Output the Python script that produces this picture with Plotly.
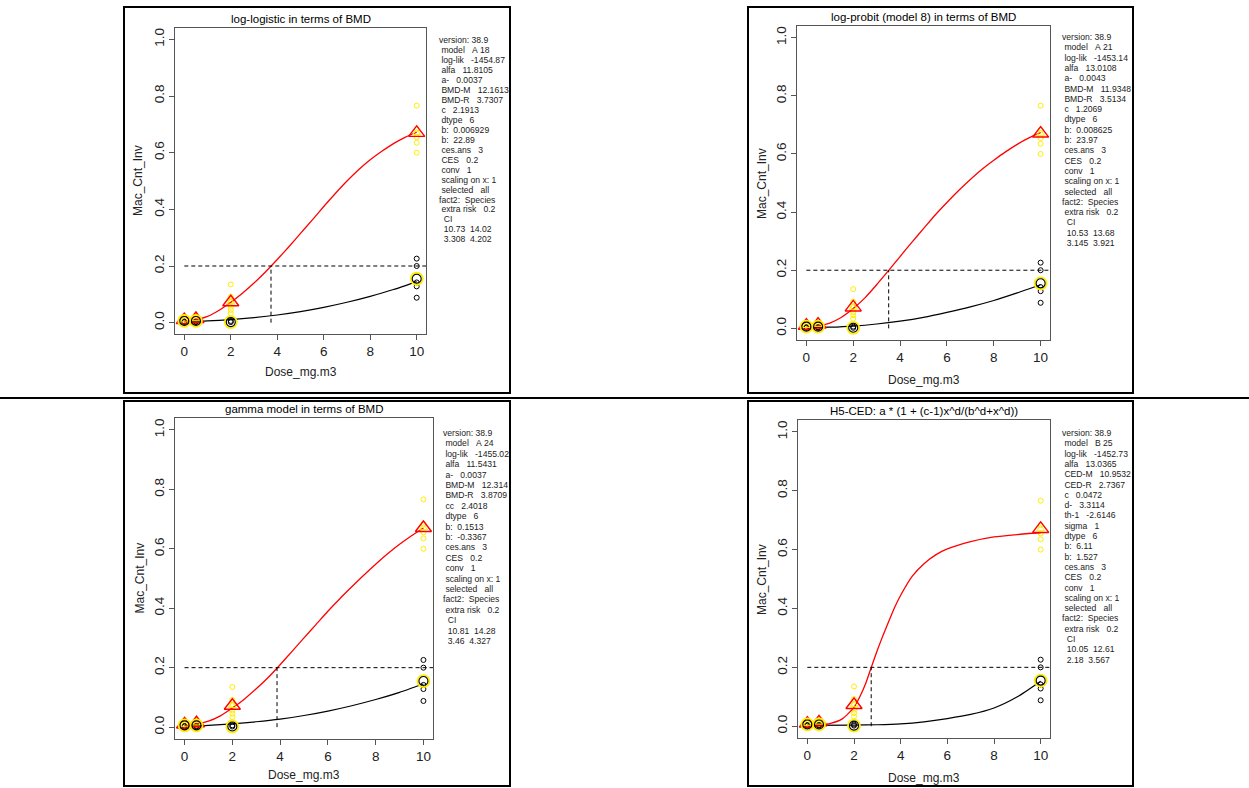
import plotly.graph_objects as go

W, H = 1249, 788

# ---------------- data ----------------
obs_yellow_x = [0, 0, 0, 0.5, 0.5, 0.5, 2, 2, 2, 2, 2, 2, 10, 10, 10, 10, 10]
obs_yellow_y = [0.005, 0.012, 0.02, 0.006, 0.012, 0.022, 0.135, 0.092, 0.075, 0.056, 0.045, 0.033,
                0.766, 0.683, 0.655, 0.635, 0.600]
obs_black_x = [0, 0, 0.5, 0.5, 2, 2, 10, 10, 10, 10, 10]
obs_black_y = [0.002, 0.004, 0.002, 0.004, 0.002, 0.006, 0.226, 0.200, 0.142, 0.128, 0.088]

dose = [0, 0.5, 2, 10]
mean_red = [0.009, 0.013, 0.072, 0.67]
mean_black = [0.006, 0.006, 0.002, 0.155]

ces_level = 0.2

titles = ["log-logistic in terms of BMD",
          "log-probit (model 8) in terms of BMD",
          "gamma model in terms of BMD",
          "H5-CED: a * (1 + (c-1)x^d/(b^d+x^d))"]

bmd_r = [3.7307, 3.5134, 3.8709, 2.7367]

# fitted curves
red1_x = [0, 0.5, 1, 1.5, 2, 2.5, 3, 3.5, 4, 4.5, 5, 5.5, 6, 6.5, 7, 7.5, 8, 8.5, 9, 9.5, 10]
red1_y = [0.005, 0.01, 0.022, 0.044, 0.072, 0.104, 0.14, 0.18, 0.223, 0.268, 0.315, 0.362, 0.41, 0.456,
          0.5, 0.54, 0.575, 0.605, 0.632, 0.654, 0.672]
blk1_x = [0, 1, 2, 3, 4, 5, 6, 7, 8, 9, 10]
blk1_y = [0.003, 0.006, 0.011, 0.018, 0.027, 0.039, 0.054, 0.072, 0.093, 0.117, 0.145]

red2_x = [0, 0.5, 1, 1.5, 2, 2.5, 3, 3.5, 4, 4.5, 5, 5.5, 6, 6.5, 7, 7.5, 8, 8.5, 9, 9.5, 10]
red2_y = [0.004, 0.008, 0.018, 0.038, 0.068, 0.105, 0.15, 0.198, 0.247, 0.296, 0.343, 0.39, 0.433, 0.474,
          0.512, 0.547, 0.578, 0.607, 0.633, 0.655, 0.673]
blk2_x = [0, 1, 2, 3, 4, 5, 6, 7, 8, 9, 10]
blk2_y = [0.002, 0.004, 0.008, 0.015, 0.025, 0.038, 0.055, 0.074, 0.096, 0.122, 0.15]

red3_x = [0, 0.5, 1, 1.5, 2, 2.5, 3, 3.5, 4, 4.5, 5, 5.5, 6, 6.5, 7, 7.5, 8, 8.5, 9, 9.5, 10]
red3_y = [0.005, 0.01, 0.02, 0.038, 0.064, 0.094, 0.129, 0.167, 0.21, 0.255, 0.3, 0.345, 0.39, 0.432,
          0.472, 0.511, 0.548, 0.583, 0.615, 0.644, 0.67]
blk3_x = [0, 1, 2, 3, 4, 5, 6, 7, 8, 9, 10]
blk3_y = [0.003, 0.006, 0.011, 0.018, 0.027, 0.039, 0.054, 0.072, 0.093, 0.117, 0.145]

red4_x = [0, 0.5, 1, 1.5, 2, 2.25, 2.5, 2.75, 3, 3.25, 3.5, 3.75, 4, 4.5, 5, 5.5, 6, 7, 8, 9, 10]
red4_y = [0.004, 0.005, 0.01, 0.025, 0.064, 0.1, 0.145, 0.202, 0.258, 0.31, 0.358, 0.405, 0.445, 0.51,
          0.552, 0.582, 0.602, 0.627, 0.643, 0.651, 0.657]
blk4_x = [0, 2, 3, 4, 5, 6, 7, 8, 9, 10]
blk4_y = [0.003, 0.004, 0.005, 0.008, 0.015, 0.026, 0.04, 0.062, 0.1, 0.153]

red_curves = [(red1_x, red1_y), (red2_x, red2_y), (red3_x, red3_y), (red4_x, red4_y)]
blk_curves = [(blk1_x, blk1_y), (blk2_x, blk2_y), (blk3_x, blk3_y), (blk4_x, blk4_y)]

info1 = ["version: 38.9", " model   A 18", " log-lik   -1454.87", " alfa   11.8105", " a-   0.0037",
         " BMD-M   12.1613", " BMD-R   3.7307", " c   2.1913", " dtype   6", " b:  0.006929", " b:  22.89",
         " ces.ans   3", " CES   0.2", " conv   1", " scaling on x: 1", " selected   all", "fact2:  Species",
         " extra risk   0.2", "  CI", "  10.73  14.02", "  3.308  4.202"]
info2 = ["version: 38.9", " model   A 21", " log-lik   -1453.14", " alfa   13.0108", " a-   0.0043",
         " BMD-M   11.9348", " BMD-R   3.5134", " c   1.2069", " dtype   6", " b:  0.008625", " b:  23.97",
         " ces.ans   3", " CES   0.2", " conv   1", " scaling on x: 1", " selected   all", "fact2:  Species",
         " extra risk   0.2", "  CI", "  10.53  13.68", "  3.145  3.921"]
info3 = ["version: 38.9", " model   A 24", " log-lik   -1455.02", " alfa   11.5431", " a-   0.0037",
         " BMD-M   12.314", " BMD-R   3.8709", " cc   2.4018", " dtype   6", " b:  0.1513", " b:  -0.3367",
         " ces.ans   3", " CES   0.2", " conv   1", " scaling on x: 1", " selected   all", "fact2:  Species",
         " extra risk   0.2", "  CI", "  10.81  14.28", "  3.46  4.327"]
info4 = ["version: 38.9", " model   B 25", " log-lik   -1452.73", " alfa   13.0365", " CED-M   10.9532",
         " CED-R   2.7367", " c   0.0472", " d-   3.3114", " th-1   -2.6146", " sigma   1", " dtype   6",
         " b:  6.11", " b:  1.527", " ces.ans   3", " CES   0.2", " conv   1", " scaling on x: 1",
         " selected   all", "fact2:  Species", " extra risk   0.2", "  CI", "  10.05  12.61", "  2.18  3.567"]
infos = [info1, info2, info3, info4]

x_ticks = [0, 2, 4, 6, 8, 10]
y_ticks = [0.0, 0.2, 0.4, 0.6, 0.8, 1.0]

# ---------------- layout geometry (screen pixels) ----------------
plot_boxes = [(175, 426, 28, 334), (797, 1050, 26, 340), (175, 433, 418, 739), (798, 1050, 420, 738)]
frames = [(124, 510, 7, 393), (748, 1133, 7, 393), (124, 510, 401, 786), (748, 1133, 401, 786)]
text_pos = [(437, 40, 9.97), (1060, 37, 10.3), (441, 433, 10.4), (1060, 433, 10.3)]
xlab_y = [372, 380, 775, 778]
ylab_x = [138, 762, 139, 762]

FONT = "Liberation Sans, Arial, sans-serif"
YEL = "#ffee00"
DASH = "4px,3px"


def px(x):
    return x / W


def py(y):
    return 1 - y / H


fig = go.Figure()
layout = dict(width=W, height=H, margin=dict(l=0, r=0, t=0, b=0), paper_bgcolor="white",
              plot_bgcolor="white", showlegend=False, font=dict(family=FONT, color="black"))
annotations = []
shapes = []

for i in range(4):
    n = "" if i == 0 else str(i + 1)
    xa, ya = "x" + n, "y" + n
    l, r, t, b = plot_boxes[i]
    axcommon = dict(showgrid=False, zeroline=False, showline=True, mirror=True, linecolor="#555",
                    linewidth=1, ticks="outside", ticklen=5, tickcolor="#555",
                    tickfont=dict(family=FONT, size=13.5, color="#222"))
    layout["xaxis" + n] = dict(domain=[px(l), px(r)], range=[-0.4, 10.4], anchor=ya,
                               tickvals=x_ticks, ticktext=[str(v) for v in x_ticks], **axcommon)
    layout["yaxis" + n] = dict(domain=[py(b), py(t)], range=[-0.04, 1.04], anchor=xa,
                               tickvals=y_ticks, ticktext=["%.1f" % v for v in y_ticks],
                               tickangle=-90, **axcommon)

    # observations
    fig.add_trace(go.Scatter(x=obs_yellow_x, y=obs_yellow_y, mode="markers", xaxis=xa, yaxis=ya,
                             marker=dict(symbol="circle-open", size=5, color=YEL, line=dict(width=1))))
    fig.add_trace(go.Scatter(x=obs_black_x, y=obs_black_y, mode="markers", xaxis=xa, yaxis=ya,
                             marker=dict(symbol="circle-open", size=5, color="black", line=dict(width=1))))
    # curves
    rx, ry = red_curves[i]
    bx, by = blk_curves[i]
    fig.add_trace(go.Scatter(x=rx, y=ry, mode="lines", xaxis=xa, yaxis=ya,
                             line=dict(color="red", width=1.3, shape="spline", smoothing=0.6)))
    fig.add_trace(go.Scatter(x=bx, y=by, mode="lines", xaxis=xa, yaxis=ya,
                             line=dict(color="black", width=1.2, shape="spline", smoothing=0.6)))
    # CES / BMD dashed lines
    fig.add_trace(go.Scatter(x=[0, 10.4], y=[ces_level, ces_level], mode="lines", xaxis=xa, yaxis=ya,
                             line=dict(color="black", width=1, dash=DASH)))
    fig.add_trace(go.Scatter(x=[bmd_r[i], bmd_r[i]], y=[0, ces_level], mode="lines", xaxis=xa, yaxis=ya,
                             line=dict(color="black", width=1, dash=DASH)))
    # means
    fig.add_trace(go.Scatter(x=dose, y=mean_red, mode="markers", xaxis=xa, yaxis=ya,
                             marker=dict(symbol="triangle-up-open", size=14, color="red", line=dict(width=1.4))))
    fig.add_trace(go.Scatter(x=dose, y=mean_red, mode="markers", xaxis=xa, yaxis=ya,
                             marker=dict(symbol="triangle-up-open", size=7, color=YEL, line=dict(width=1))))
    fig.add_trace(go.Scatter(x=dose, y=mean_black, mode="markers", xaxis=xa, yaxis=ya,
                             marker=dict(symbol="circle-open", size=12, color=YEL, line=dict(width=1.8))))
    fig.add_trace(go.Scatter(x=dose, y=mean_black, mode="markers", xaxis=xa, yaxis=ya,
                             marker=dict(symbol="circle-open", size=9, color="black", line=dict(width=1.1))))

    # title and axis labels
    annotations.append(dict(text=titles[i], x=px((l + r) / 2), y=py(t - 9), xref="paper",
                            yref="paper", showarrow=False, xanchor="center", yanchor="middle",
                            font=dict(size=11.5, family=FONT, color="black")))
    annotations.append(dict(text="Dose_mg.m3", x=px((l + r) / 2), y=py(xlab_y[i]), xref="paper", yref="paper",
                            showarrow=False, xanchor="center", yanchor="middle",
                            font=dict(size=12, family=FONT, color="#222")))
    annotations.append(dict(text="Mac_Cnt_Inv", x=px(ylab_x[i]), y=py((t + b) / 2), xref="paper", yref="paper",
                            showarrow=False, textangle=-90, xanchor="center", yanchor="middle",
                            font=dict(size=12, family=FONT, color="#222")))
    # info text
    tx, ty, dy = text_pos[i]
    for k, line in enumerate(infos[i]):
        annotations.append(dict(text=line.replace(" ", "\u00a0"), x=px(tx), y=py(ty + k * dy), xref="paper",
                                yref="paper", showarrow=False, xanchor="left", yanchor="middle",
                                font=dict(size=8.6, family=FONT, color="#222")))
    # panel frame
    fl, fr, ft, fb = frames[i]
    shapes.append(dict(type="rect", xref="paper", yref="paper", x0=px(fl), x1=px(fr), y0=py(fb), y1=py(ft),
                       line=dict(color="black", width=2)))

shapes.append(dict(type="line", xref="paper", yref="paper", x0=0, x1=1, y0=py(398), y1=py(398),
                   line=dict(color="black", width=2)))

layout["annotations"] = annotations
layout["shapes"] = shapes
fig.update_layout(**layout)
fig.write_html("out.html", config={"displayModeBar": False},
               post_script="document.body.style.margin='0';document.body.style.overflow='hidden';")
